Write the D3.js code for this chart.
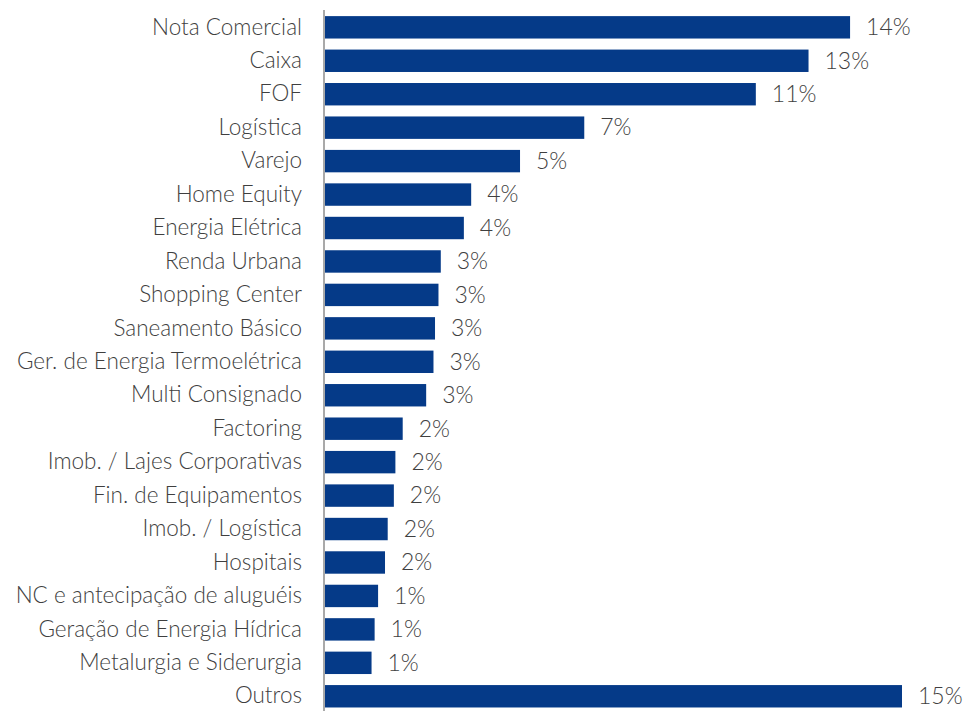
<!DOCTYPE html>
<html>
<head>
<meta charset="utf-8">
<script src="https://cdn.jsdelivr.net/npm/d3@7"></script>
<style>
  body { margin: 0; background: #fff; }
  text { font-family: Lato, "Open Sans", sans-serif; font-weight: 300; fill: #3f3f3f; }
</style>
</head>
<body>
<div class="alloc-chart"></div>
<script>
// categories, top to bottom
const categories = [
    "Nota Comercial", "Caixa", "FOF", "Logística", "Varejo", "Home Equity",
    "Energia Elétrica", "Renda Urbana", "Shopping Center", "Saneamento Básico",
    "Ger. de Energia Termoelétrica", "Multi Consignado", "Factoring",
    "Imob. / Lajes Corporativas", "Fin. de Equipamentos", "Imob. / Logística",
    "Hospitais", "NC e antecipação de aluguéis", "Geração de Energia Hídrica",
    "Metalurgia e Siderurgia", "Outros"
];

// share of portfolio (%)
const values = [
    13.65, 12.57, 11.2, 6.74, 5.07, 3.8,
    3.61, 3.01, 2.95, 2.86,
    2.82, 2.63, 2.02,
    1.83, 1.79, 1.63,
    1.56, 1.38, 1.29,
    1.21, 15
];

const width = 968;
const height = 711;
const axis_x = 324;
const bar_color = "#053a88";

const data = categories.map(function(c, i) {
    return { "name": c, "value": values[i] };
});

const svg = d3.select(".alloc-chart").append("svg")
    .attr("width", width)
    .attr("height", height);

// scales
const x_scale = d3.scaleLinear()
    .domain([0, 15])
    .range([axis_x + 1, 902]);

const y_scale = d3.scaleBand()
    .domain(categories)
    .range([10.6, 713])
    .paddingInner(0.33)
    .paddingOuter(0.165);

// bars
svg.selectAll(".bar")
    .data(data).enter()
    .append("rect")
    .attr("class", "bar")
    .attr("x", x_scale(0))
    .attr("y", function(d) { return y_scale(d.name); })
    .attr("width", function(d) { return x_scale(d.value) - x_scale(0); })
    .attr("height", y_scale.bandwidth())
    .attr("fill", bar_color);

// value labels
svg.selectAll(".value")
    .data(data).enter()
    .append("text")
    .attr("class", "value")
    .attr("x", function(d) { return x_scale(d.value) + 16; })
    .attr("y", function(d) { return y_scale(d.name) + y_scale.bandwidth() / 2; })
    .attr("dy", "0.34em")
    .style("font-size", "23px")
    .text(function(d) { return Math.round(d.value) + "%"; });

// category axis
const y_axis = d3.axisLeft(y_scale).tickSize(0).tickPadding(22);
const axis_g = svg.append("g")
    .attr("transform", "translate(" + axis_x + ", 0)")
    .call(y_axis);

axis_g.select(".domain").remove();
axis_g.selectAll("text")
    .style("font-size", "22.5px")
    .attr("fill", null);

svg.append("line")
    .attr("x1", axis_x).attr("x2", axis_x)
    .attr("y1", 10).attr("y2", height)
    .attr("stroke", "#8c8c8c")
    .attr("stroke-width", 1.5);
</script>
</body>
</html>
